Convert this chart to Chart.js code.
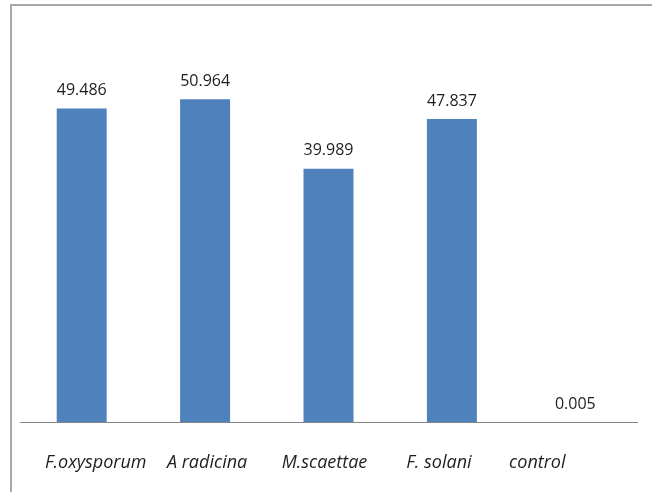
<!DOCTYPE html>
<html>
<head>
<meta charset="utf-8">
<script src="https://cdn.jsdelivr.net/npm/chart.js@4/dist/chart.umd.min.js"></script>
<style>
  html, body { margin: 0; padding: 0; background: #fff; }
  #wrap { position: relative; width: 652px; height: 492px; overflow: hidden; }
  #frame { position: absolute; left: 10px; top: 4px; width: 700px; height: 540px;
           border: 2px solid #a9a9a9; box-sizing: border-box; }
  canvas { position: absolute; left: 0; top: 0; }
</style>
</head>
<body>
<div id="wrap">
  <div id="frame"></div>
  <canvas id="c" width="652" height="492"></canvas>
</div>
<script>
// Pathogen isolates and their measured values
const categories = ['F.oxysporum', 'A radicina', 'M.scaettae', 'F. solani', 'control'];
const values = [49.486, 50.964, 39.989, 47.837, 0.005];
const valueLabels = ['49.486', '50.964', '39.989', '47.837', '0.005'];

// horizontal nudge (px) for each category caption under its bar
const labelNudge = [14, 2, -4, -13, -38];

const valueLabelPlugin = {
  id: 'valueLabels',
  afterDatasetsDraw(chart) {
    const ctx = chart.ctx;
    const meta = chart.getDatasetMeta(0);
    ctx.save();
    ctx.font = '16px "Open Sans"';
    ctx.fillStyle = '#1e1e1e';
    ctx.textAlign = 'center';
    ctx.textBaseline = 'middle';
    meta.data.forEach((bar, i) => {
      ctx.fillText(valueLabels[i], bar.x, bar.y - 18);
    });
    ctx.restore();
  }
};

const categoryLabelPlugin = {
  id: 'categoryLabels',
  afterDraw(chart) {
    const ctx = chart.ctx;
    const xs = chart.scales.x;
    ctx.save();
    ctx.font = 'italic 18px "Open Sans"';
    ctx.fillStyle = '#1e1e1e';
    ctx.textAlign = 'center';
    ctx.textBaseline = 'middle';
    categories.forEach((c, i) => {
      ctx.fillText(c, xs.getPixelForValue(i) + labelNudge[i], xs.bottom + 41);
    });
    ctx.restore();
  }
};

new Chart(document.getElementById('c'), {
  type: 'bar',
  data: {
    labels: categories,
    datasets: [{
      data: values,
      backgroundColor: '#4f81bd',
      borderWidth: 0,
      categoryPercentage: 1.0,
      barPercentage: 0.405
    }]
  },
  options: {
    responsive: false,
    animation: false,
    layout: { padding: { left: 20, right: 15, top: 42, bottom: 70 } },
    plugins: { legend: { display: false }, tooltip: { enabled: false } },
    scales: {
      x: {
        grid: { display: false, drawTicks: false },
        border: { display: true, color: '#868686', width: 1 },
        ticks: { display: false }
      },
      y: {
        display: false,
        min: 0,
        max: 60
      }
    }
  },
  plugins: [valueLabelPlugin, categoryLabelPlugin]
});
</script>
</body>
</html>
